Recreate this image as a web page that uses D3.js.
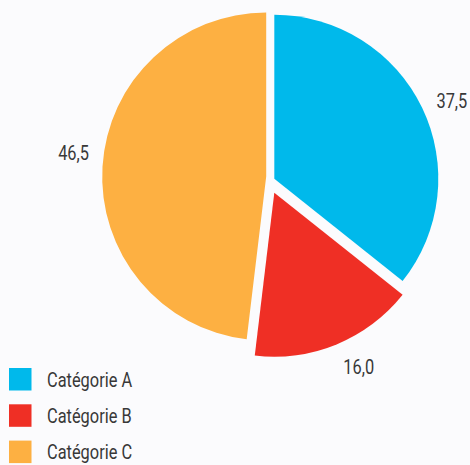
<!DOCTYPE html>
<html>
<head>
<meta charset="utf-8">
<script src="https://cdn.jsdelivr.net/npm/d3@7"></script>
<style>
  html, body { margin: 0; padding: 0; background: #fbfbfd; }
  text { font-family: Roboto, "Noto Sans", sans-serif; fill: #383838; }
</style>
</head>
<body>
<div id="chart"></div>
<script>
// data
const categories = ["Catégorie A", "Catégorie B", "Catégorie C"];
const values = [37.5, 16.0, 46.5];        // printed labels
const shares = [35.7, 16.2, 48.1];        // slice sizes as drawn in the picture
const colors = ["#00b9eb", "#ef2f25", "#fdb042"];

// layout
const width = 470, height = 465;
const center = {x: 270, y: 182};
const radius = 164;
const offsets = [[4.3, -3.2], [4.3, 10.7], [-3.8, -5.5]];  // pulled-out slices
const labelRadius = 194;
const labelShift = [2, -3.5, 3.4];   // degrees
const squeeze = 0.82;                // condensed look

const svg = d3.select("#chart").append("svg")
    .attr("width", width)
    .attr("height", height);

const pie = d3.pie().sort(null).value(d => d);
const arcs = pie(shares);
const arc = d3.arc().innerRadius(0).outerRadius(radius);

const fmt = v => d3.format(".1f")(v).replace(".", ",");

const slices = svg.append("g")
    .attr("transform", `translate(${center.x},${center.y})`);

arcs.forEach((d, i) => {
    const g = slices.append("g")
        .attr("transform", `translate(${offsets[i][0]},${offsets[i][1]})`);
    g.append("path")
        .attr("d", arc(d))
        .attr("fill", colors[i]);

    const mid = (d.startAngle + d.endAngle) / 2;
    const la = mid + labelShift[i] * Math.PI / 180;
    g.append("text")
        .attr("transform", `translate(${Math.sin(la) * labelRadius},${-Math.cos(la) * labelRadius}) scale(${squeeze},1)`)
        .attr("text-anchor", "middle")
        .attr("dy", "0.35em")
        .attr("font-size", 20)
        .text(fmt(values[i]));
});

// legend
const legend = svg.append("g").attr("transform", "translate(9,368)");
const item = legend.selectAll("g").data(categories).join("g")
    .attr("transform", (d, i) => `translate(0,${i * 36.3})`);
item.append("rect")
    .attr("width", 22.5)
    .attr("height", 22.5)
    .attr("fill", (d, i) => colors[i]);
item.append("text")
    .attr("transform", `translate(38,11.5) scale(${squeeze},1)`)
    .attr("dy", "0.35em")
    .attr("font-size", 20)
    .text(d => d);
</script>
</body>
</html>
